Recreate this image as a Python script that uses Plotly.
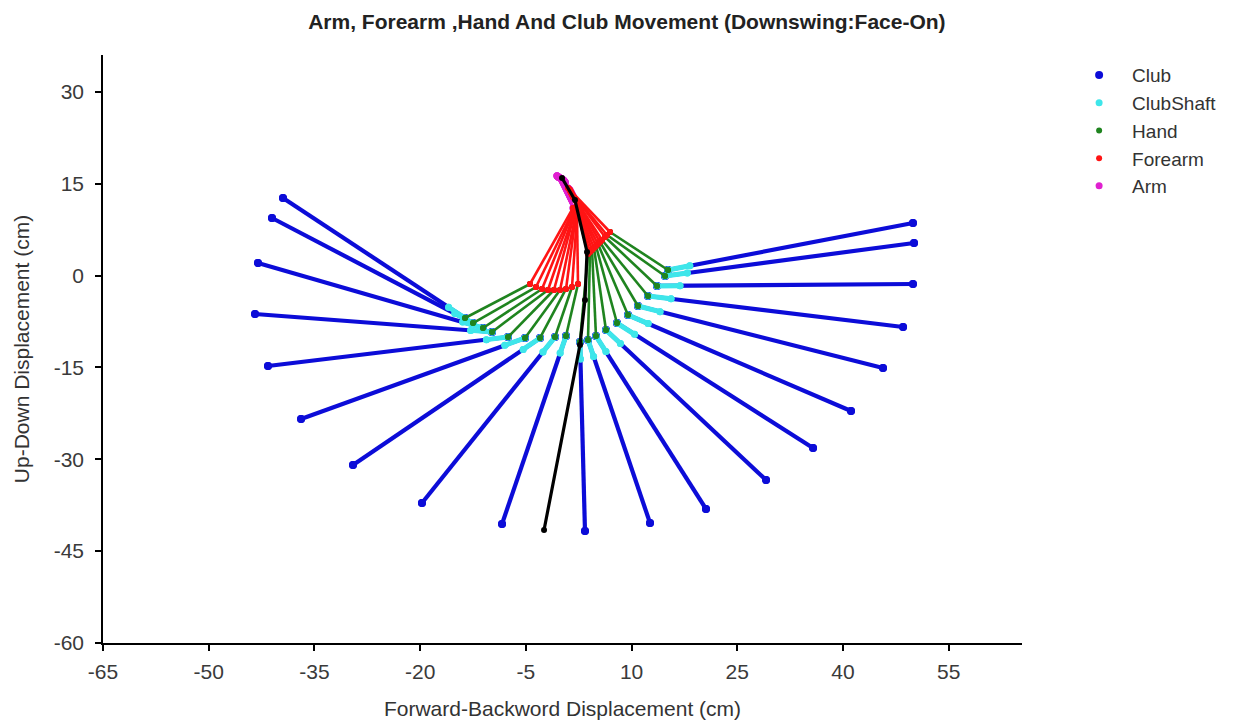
import plotly.graph_objects as go

# ---------------- data (cm) ----------------
# 20 swing frames (club head sweeps from top-left, round the bottom, to top-right)
shoulder_x = [-0.60, -0.55, -0.50, -0.45, -0.40, -0.35, -0.30, -0.20, -0.10, 0.00,
              0.10, 0.15, 0.20, 0.30, 0.35, 0.40, 0.45, 0.50, 0.55, 0.60]
shoulder_y = [16.30, 16.25, 16.20, 16.15, 16.10, 16.05, 16.00, 15.95, 15.90, 15.85,
              15.80, 15.75, 15.70, 15.60, 15.55, 15.50, 15.40, 15.35, 15.30, 15.20]

elbow_x = [1.69, 1.83, 1.83, 1.97, 1.97, 2.12, 2.12, 2.26, 2.26, 1.83,
           1.69, 1.69, 1.55, 1.55, 1.41, 1.41, 1.26, 1.26, 1.12, 0.98]
elbow_y = [11.02, 10.86, 10.69, 10.53, 10.37, 10.20, 10.04, 9.88, 9.71, 12.65,
           12.82, 12.98, 13.14, 13.31, 13.47, 13.63, 13.80, 13.96, 14.12, 14.29]

wrist_x = [-4.41, -3.56, -2.71, -1.86, -1.01, -0.15, 0.70, 1.55, 2.40, 3.82,
           4.10, 4.39, 4.67, 4.95, 5.24, 5.52, 5.81, 6.23, 6.51, 6.94]
wrist_y = [-1.39, -1.88, -2.20, -2.37, -2.37, -2.37, -2.20, -1.88, -1.39, 3.51,
           3.84, 4.16, 4.49, 4.82, 5.14, 5.47, 5.80, 6.29, 6.61, 7.10]

hand_x = [-13.63, -12.50, -11.08, -9.80, -7.53, -5.12, -2.99, -0.86, 0.70, 2.68,
          3.82, 4.95, 6.37, 7.93, 9.49, 10.91, 12.33, 13.61, 14.75, 15.17]
hand_y = [-6.94, -7.76, -8.57, -9.22, -10.04, -10.20, -10.20, -10.04, -9.88, -10.86,
          -10.53, -9.88, -8.90, -7.76, -6.45, -4.98, -3.35, -1.71, -0.08, 0.90]

grip_x = [-15.96, -15.07, -13.96, -12.83, -10.60, -7.99, -5.38, -2.57, -0.13, 2.75,
          4.61, 6.36, 8.42, 10.43, 12.35, 14.04, 15.60, 16.87, 17.91, 18.26]
grip_y = [-5.18, -6.20, -7.61, -8.96, -10.47, -11.40, -12.07, -12.47, -12.64, -13.63,
          -13.22, -12.42, -11.10, -9.60, -7.85, -5.91, -3.79, -1.68, 0.42, 1.60]

head_x = [-39.46, -41.02, -43.01, -43.43, -41.59, -36.90, -29.53, -19.74, -8.38, 3.39,
          12.62, 20.56, 29.08, 35.75, 41.14, 45.68, 48.52, 49.93, 50.08, 49.93]
head_y = [12.65, 9.39, 2.04, -6.29, -14.78, -23.43, -30.94, -37.14, -40.57, -41.71,
          -40.41, -38.12, -33.39, -28.16, -22.12, -15.10, -8.41, -1.39, 5.31, 8.57]

# impact frame (shoulder, elbow, wrist, hand, grip, club head) drawn in black
impact_x = [0.13, 1.97, 3.68, 3.39, 2.68, -2.42]
impact_y = [15.92, 12.33, 3.84, -4.00, -11.35, -41.55]

x_ticks = [-65, -50, -35, -20, -5, 10, 25, 40, 55]
y_ticks = [-60, -45, -30, -15, 0, 15, 30]

FONT = "Liberation Sans, Arial, sans-serif"


def segs(ax, ay, bx, by):
    xs, ys = [], []
    for x0, y0, x1, y1 in zip(ax, ay, bx, by):
        xs += [x0, x1, None]
        ys += [y0, y1, None]
    return xs, ys


# (name, start, end, colour, line width, marker size, legend rank)
series = [
    ("Club", (hand_x, hand_y), (head_x, head_y), "#0c0cd8", 4.2, 8, 1),
    ("ClubShaft", (hand_x, hand_y), (grip_x, grip_y), "#3ee6ea", 5.0, 7, 2),
    ("Hand", (wrist_x, wrist_y), (hand_x, hand_y), "#1f841f", 2.6, 6, 3),
    ("Arm", (shoulder_x, shoulder_y), (elbow_x, elbow_y), "#e020d0", 2.4, 7, 5),
    ("Forearm", (elbow_x, elbow_y), (wrist_x, wrist_y), "#ff1414", 2.6, 6, 4),
]

fig = go.Figure()
for name, (ax, ay), (bx, by), col, lw, ms, rank in series:
    xs, ys = segs(ax, ay, bx, by)
    fig.add_trace(go.Scatter(x=xs, y=ys, mode="lines+markers", name=name,
                             line=dict(color=col, width=lw),
                             marker=dict(color=col, size=ms),
                             showlegend=False, hoverinfo="skip"))
    fig.add_trace(go.Scatter(x=xs, y=ys, mode="markers", name=name,
                             marker=dict(color=col, size=ms),
                             showlegend=True, legendrank=rank))

fig.add_trace(go.Scatter(x=impact_x, y=impact_y, mode="lines+markers",
                         line=dict(color="black", width=3.2),
                         marker=dict(color="black", size=6),
                         showlegend=False, name="Impact"))

axis_common = dict(showgrid=False, zeroline=False, showline=True, linecolor="black",
                   linewidth=1.5, ticks="outside", ticklen=6, tickwidth=1.5,
                   tickcolor="black", mirror=False, automargin=False,
                   tickfont=dict(family=FONT, size=21, color="#3a3a3a"))

# the page body adds an 8px margin, so the figure is 8px smaller than the window
fig.update_layout(
    width=1228, height=713,
    margin=dict(l=95, r=214, t=47, b=78),
    paper_bgcolor="white", plot_bgcolor="white",
    title=dict(text="Arm, Forearm ,Hand And Club Movement (Downswing:Face-On)",
               x=0.504, xanchor="center", y=1 - 14 / 713, yanchor="middle",
               font=dict(family=FONT, size=21, color="#222222", weight="bold")),
    xaxis=dict(range=[-65, 65.4], tickvals=x_ticks,
               ticktext=[str(v) for v in x_ticks], ticklabelstandoff=3,
               title=dict(text="Forward-Backword Displacement (cm)", standoff=19,
                          font=dict(family=FONT, size=21, color="#333333")),
               **axis_common),
    yaxis=dict(range=[-60, 36], tickvals=y_ticks,
               ticktext=[str(v) for v in y_ticks], ticklabelstandoff=7,
               title=dict(text="Up-Down Displacement (cm)", standoff=18,
                          font=dict(family=FONT, size=21, color="#333333")),
               **axis_common),
    legend=dict(x=1.048, y=0.998, xanchor="left", yanchor="top",
                font=dict(family=FONT, size=19, color="#333333"),
                itemwidth=56, bgcolor="rgba(0,0,0,0)"),
    showlegend=True,
)

fig.write_html("out.html")
